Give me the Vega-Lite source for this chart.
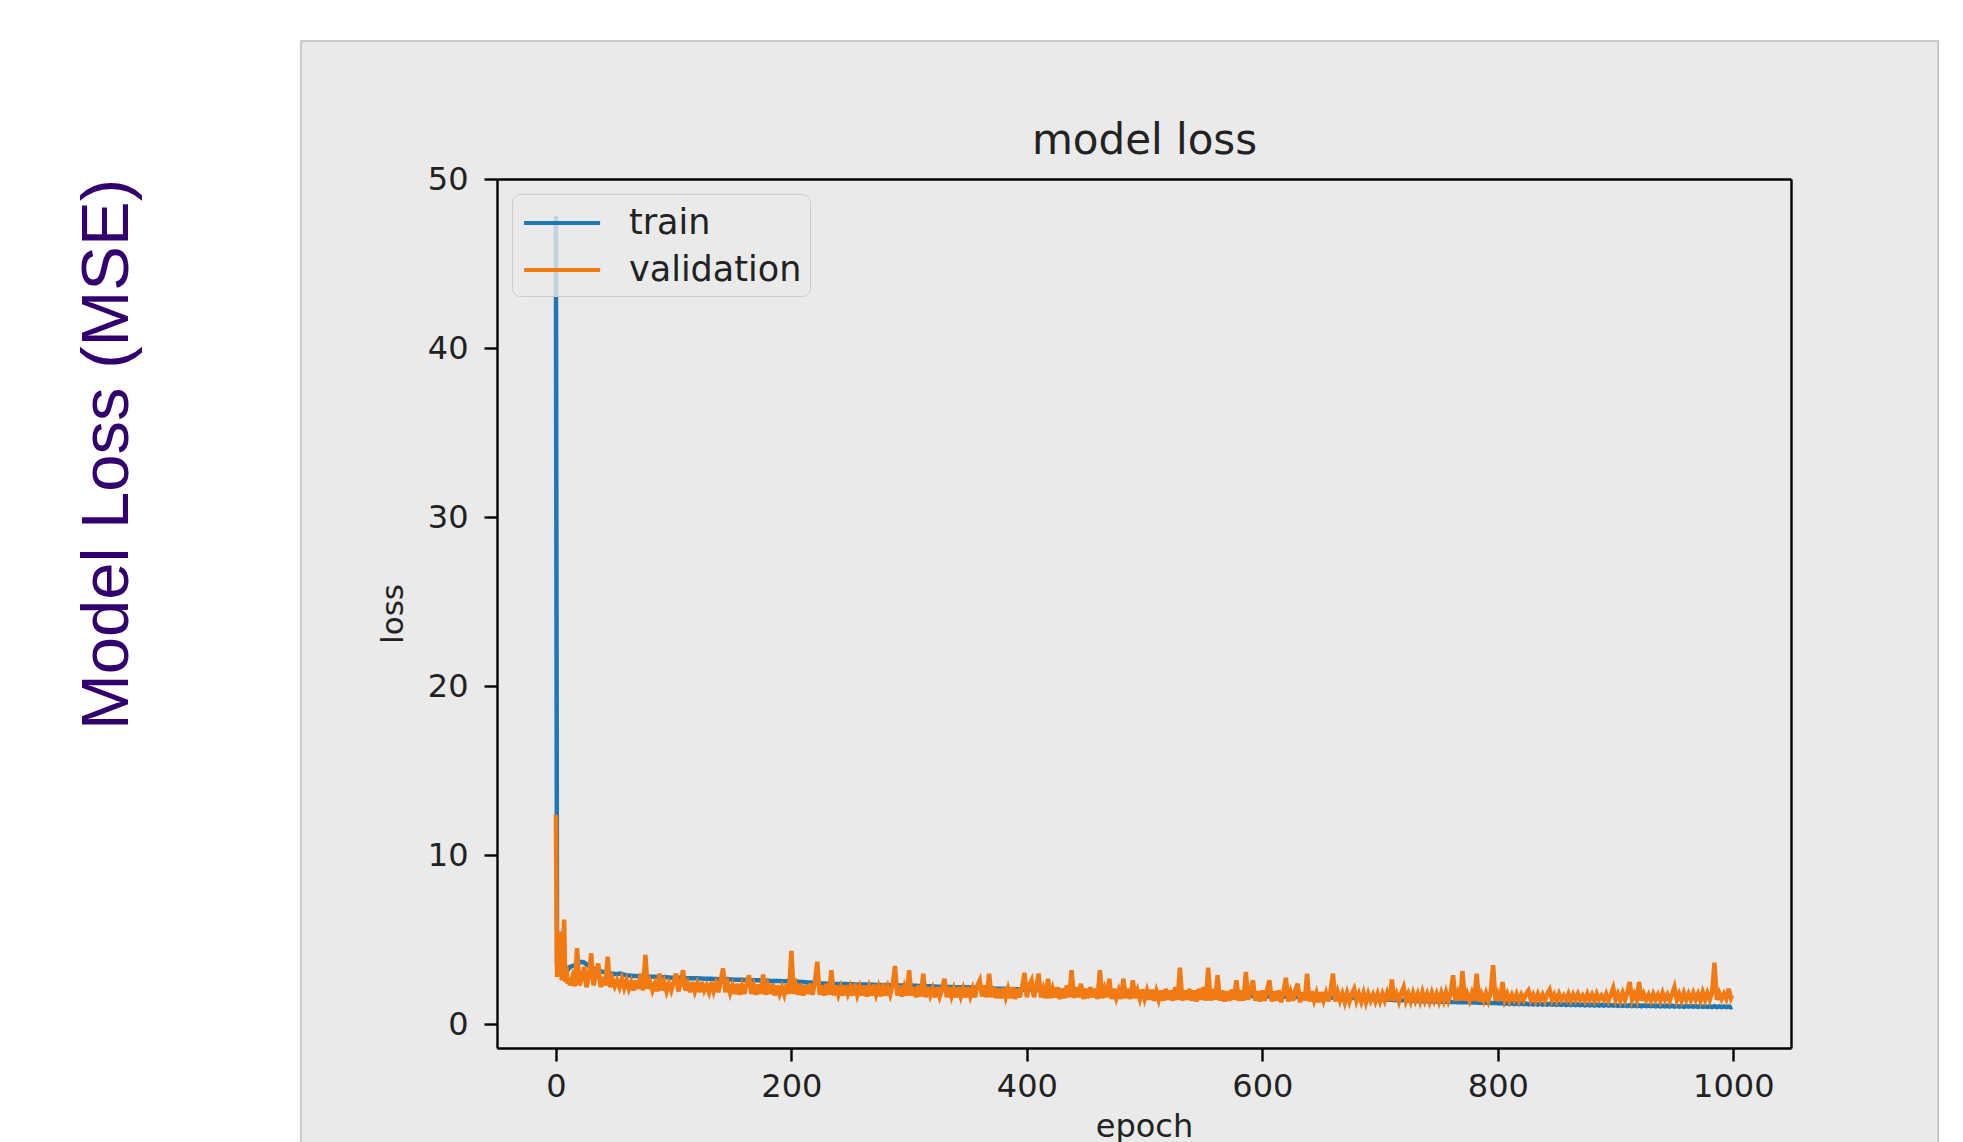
{
"$schema": "https://vega.github.io/schema/vega-lite/v6.json",
"width": 1294,
"height": 869,
"autosize": {"type": "none"},
"padding": {"left": 497, "top": 179, "right": 172, "bottom": 94},
"background": "white",
"title": {"text": "Model Loss (MSE)", "orient": "left", "anchor": "end", "frame": "group", "offset": 158, "font": "Liberation Sans", "fontSize": 67, "fontWeight": "normal", "color": "#32006e"},
"layer": [
{
"data": {"values": [{}]},
"mark": {"type": "rect", "clip": false, "fill": "#eaeaea", "stroke": "#bdbdbd", "strokeWidth": 1.5},
"encoding": {
"x": {"datum": -216.5, "type": "quantitative", "scale": {"domain": [-50, 1049], "nice": false, "zero": false}, "axis": null},
"x2": {"datum": 1174},
"y": {"datum": 58.16, "type": "quantitative", "scale": {"domain": [-1.4, 50], "nice": false, "zero": false}, "axis": null},
"y2": {"datum": -8}
}
},
{
"data": {"values": [
{"epoch":0,"train":47.8,"validation":12.4},
{"epoch":1,"train":3.6,"validation":2.8},
{"epoch":2,"train":3.5,"validation":5.4},
{"epoch":3,"train":3.4,"validation":3.0},
{"epoch":4,"train":3.5,"validation":5.5},
{"epoch":5,"train":3.3,"validation":2.6},
{"epoch":6,"train":3.4,"validation":4.0},
{"epoch":7,"train":3.3,"validation":6.2},
{"epoch":8,"train":3.2,"validation":2.5},
{"epoch":9,"train":3.3,"validation":3.4},
{"epoch":10,"train":3.2,"validation":2.4},
{"epoch":11,"train":3.3,"validation":2.7},
{"epoch":12,"train":3.4,"validation":2.3},
{"epoch":14,"train":3.45,"validation":2.8},
{"epoch":16,"train":3.5,"validation":2.25},
{"epoch":18,"train":3.6,"validation":4.5},
{"epoch":20,"train":3.65,"validation":2.3},
{"epoch":22,"train":3.7,"validation":2.7},
{"epoch":24,"train":3.65,"validation":3.4},
{"epoch":26,"train":3.55,"validation":2.2},
{"epoch":28,"train":3.45,"validation":2.8},
{"epoch":30,"train":3.35,"validation":4.2},
{"epoch":32,"train":3.3,"validation":2.3},
{"epoch":34,"train":3.25,"validation":2.9},
{"epoch":36,"train":3.2,"validation":3.6},
{"epoch":38,"train":3.15,"validation":2.2},
{"epoch":40,"train":3.1,"validation":2.8},
{"epoch":42,"train":3.08,"validation":2.3},
{"epoch":44,"train":3.05,"validation":4.0},
{"epoch":46,"train":3.02,"validation":2.2},
{"epoch":48,"train":3.0,"validation":2.7},
{"epoch":50,"train":2.98,"validation":2.25},
{"epoch":52,"train":2.96,"validation":2.6},
{"epoch":54,"train":3.0,"validation":2.2},
{"epoch":56,"train":2.96,"validation":2.7},
{"epoch":58,"train":2.93,"validation":2.15},
{"epoch":60,"train":2.9,"validation":2.6},
{"epoch":62,"train":2.89,"validation":2.1},
{"epoch":64,"train":2.88,"validation":2.5},
{"epoch":66,"train":2.86,"validation":2.0},
{"epoch":68,"train":2.86,"validation":2.6},
{"epoch":70,"train":2.85,"validation":2.1},
{"epoch":72,"train":2.84,"validation":3.0},
{"epoch":74,"train":2.84,"validation":2.0},
{"epoch":76,"train":2.83,"validation":4.1},
{"epoch":78,"train":2.82,"validation":2.1},
{"epoch":80,"train":2.82,"validation":2.5},
{"epoch":82,"train":2.81,"validation":2.0},
{"epoch":84,"train":2.81,"validation":2.4},
{"epoch":86,"train":2.8,"validation":1.95},
{"epoch":88,"train":2.79,"validation":3.0},
{"epoch":90,"train":2.79,"validation":2.0},
{"epoch":92,"train":2.78,"validation":2.5},
{"epoch":94,"train":2.78,"validation":1.95},
{"epoch":96,"train":2.77,"validation":2.4},
{"epoch":98,"train":2.76,"validation":2.0},
{"epoch":100,"train":2.76,"validation":2.5},
{"epoch":102,"train":2.75,"validation":3.0},
{"epoch":104,"train":2.75,"validation":1.95},
{"epoch":106,"train":2.75,"validation":2.4},
{"epoch":108,"train":2.74,"validation":3.2},
{"epoch":110,"train":2.74,"validation":2.0},
{"epoch":112,"train":2.73,"validation":2.4},
{"epoch":114,"train":2.73,"validation":1.9},
{"epoch":116,"train":2.72,"validation":2.5},
{"epoch":118,"train":2.72,"validation":1.95},
{"epoch":120,"train":2.72,"validation":2.4},
{"epoch":122,"train":2.71,"validation":1.9},
{"epoch":124,"train":2.71,"validation":2.5},
{"epoch":126,"train":2.7,"validation":2.0},
{"epoch":128,"train":2.7,"validation":2.3},
{"epoch":130,"train":2.69,"validation":1.9},
{"epoch":132,"train":2.69,"validation":2.5},
{"epoch":134,"train":2.68,"validation":1.95},
{"epoch":136,"train":2.68,"validation":2.4},
{"epoch":138,"train":2.67,"validation":1.9},
{"epoch":140,"train":2.67,"validation":2.6},
{"epoch":142,"train":2.67,"validation":3.3},
{"epoch":144,"train":2.66,"validation":1.9},
{"epoch":146,"train":2.66,"validation":2.4},
{"epoch":148,"train":2.65,"validation":1.85},
{"epoch":150,"train":2.65,"validation":2.3},
{"epoch":152,"train":2.64,"validation":1.8},
{"epoch":154,"train":2.64,"validation":2.4},
{"epoch":156,"train":2.63,"validation":1.75},
{"epoch":158,"train":2.63,"validation":2.3},
{"epoch":160,"train":2.62,"validation":1.8},
{"epoch":162,"train":2.62,"validation":2.4},
{"epoch":164,"train":2.61,"validation":2.9},
{"epoch":166,"train":2.61,"validation":1.8},
{"epoch":168,"train":2.6,"validation":2.3},
{"epoch":170,"train":2.6,"validation":1.75},
{"epoch":172,"train":2.6,"validation":2.35},
{"epoch":174,"train":2.59,"validation":1.8},
{"epoch":176,"train":2.59,"validation":2.95},
{"epoch":178,"train":2.58,"validation":1.75},
{"epoch":180,"train":2.58,"validation":2.3},
{"epoch":182,"train":2.57,"validation":1.8},
{"epoch":184,"train":2.57,"validation":2.4},
{"epoch":186,"train":2.56,"validation":1.7},
{"epoch":188,"train":2.56,"validation":2.3},
{"epoch":190,"train":2.56,"validation":1.8},
{"epoch":192,"train":2.55,"validation":2.2},
{"epoch":194,"train":2.55,"validation":1.75},
{"epoch":196,"train":2.55,"validation":2.35},
{"epoch":198,"train":2.55,"validation":1.8},
{"epoch":200,"train":2.55,"validation":4.35},
{"epoch":202,"train":2.54,"validation":1.8},
{"epoch":204,"train":2.53,"validation":2.3},
{"epoch":206,"train":2.52,"validation":1.75},
{"epoch":208,"train":2.51,"validation":2.4},
{"epoch":210,"train":2.5,"validation":1.7},
{"epoch":212,"train":2.49,"validation":2.3},
{"epoch":214,"train":2.48,"validation":1.8},
{"epoch":216,"train":2.47,"validation":2.4},
{"epoch":218,"train":2.46,"validation":1.75},
{"epoch":220,"train":2.45,"validation":2.5},
{"epoch":222,"train":2.44,"validation":3.7},
{"epoch":224,"train":2.43,"validation":1.75},
{"epoch":226,"train":2.42,"validation":2.3},
{"epoch":228,"train":2.41,"validation":1.7},
{"epoch":230,"train":2.4,"validation":2.4},
{"epoch":232,"train":2.4,"validation":1.75},
{"epoch":234,"train":2.4,"validation":3.2},
{"epoch":236,"train":2.39,"validation":1.7},
{"epoch":238,"train":2.39,"validation":2.3},
{"epoch":240,"train":2.39,"validation":1.75},
{"epoch":242,"train":2.38,"validation":2.2},
{"epoch":244,"train":2.38,"validation":1.7},
{"epoch":246,"train":2.38,"validation":2.3},
{"epoch":248,"train":2.37,"validation":1.8},
{"epoch":250,"train":2.37,"validation":2.2},
{"epoch":252,"train":2.37,"validation":1.7},
{"epoch":254,"train":2.36,"validation":2.4},
{"epoch":256,"train":2.36,"validation":1.75},
{"epoch":258,"train":2.36,"validation":2.2},
{"epoch":260,"train":2.35,"validation":1.7},
{"epoch":262,"train":2.35,"validation":2.3},
{"epoch":264,"train":2.35,"validation":1.65},
{"epoch":266,"train":2.34,"validation":2.2},
{"epoch":268,"train":2.34,"validation":1.7},
{"epoch":270,"train":2.34,"validation":2.35},
{"epoch":272,"train":2.33,"validation":1.75},
{"epoch":274,"train":2.33,"validation":2.2},
{"epoch":276,"train":2.33,"validation":1.65},
{"epoch":278,"train":2.32,"validation":2.4},
{"epoch":280,"train":2.32,"validation":1.7},
{"epoch":282,"train":2.32,"validation":2.2},
{"epoch":284,"train":2.31,"validation":1.75},
{"epoch":286,"train":2.31,"validation":2.3},
{"epoch":288,"train":2.31,"validation":3.45},
{"epoch":290,"train":2.3,"validation":1.7},
{"epoch":292,"train":2.3,"validation":2.3},
{"epoch":294,"train":2.3,"validation":1.65},
{"epoch":296,"train":2.3,"validation":2.2},
{"epoch":298,"train":2.3,"validation":1.7},
{"epoch":300,"train":2.3,"validation":3.2},
{"epoch":302,"train":2.29,"validation":1.7},
{"epoch":304,"train":2.28,"validation":2.2},
{"epoch":306,"train":2.28,"validation":1.6},
{"epoch":308,"train":2.27,"validation":2.3},
{"epoch":310,"train":2.27,"validation":1.65},
{"epoch":312,"train":2.26,"validation":3.0},
{"epoch":314,"train":2.26,"validation":1.6},
{"epoch":316,"train":2.25,"validation":2.2},
{"epoch":318,"train":2.25,"validation":1.7},
{"epoch":320,"train":2.24,"validation":2.1},
{"epoch":322,"train":2.24,"validation":1.6},
{"epoch":324,"train":2.23,"validation":2.2},
{"epoch":326,"train":2.23,"validation":1.65},
{"epoch":328,"train":2.22,"validation":2.1},
{"epoch":330,"train":2.22,"validation":2.7},
{"epoch":332,"train":2.21,"validation":1.6},
{"epoch":334,"train":2.21,"validation":2.2},
{"epoch":336,"train":2.21,"validation":1.65},
{"epoch":338,"train":2.2,"validation":2.1},
{"epoch":340,"train":2.2,"validation":1.6},
{"epoch":342,"train":2.2,"validation":2.2},
{"epoch":344,"train":2.2,"validation":1.65},
{"epoch":346,"train":2.2,"validation":2.1},
{"epoch":348,"train":2.19,"validation":1.6},
{"epoch":350,"train":2.19,"validation":2.2},
{"epoch":352,"train":2.18,"validation":1.65},
{"epoch":354,"train":2.18,"validation":2.1},
{"epoch":356,"train":2.17,"validation":1.6},
{"epoch":358,"train":2.17,"validation":2.3},
{"epoch":360,"train":2.16,"validation":2.6},
{"epoch":362,"train":2.15,"validation":1.65},
{"epoch":364,"train":2.15,"validation":2.3},
{"epoch":366,"train":2.14,"validation":1.6},
{"epoch":368,"train":2.13,"validation":3.0},
{"epoch":370,"train":2.13,"validation":1.6},
{"epoch":372,"train":2.12,"validation":2.2},
{"epoch":374,"train":2.11,"validation":1.55},
{"epoch":376,"train":2.11,"validation":2.1},
{"epoch":378,"train":2.1,"validation":1.55},
{"epoch":380,"train":2.1,"validation":2.15},
{"epoch":382,"train":2.09,"validation":1.6},
{"epoch":384,"train":2.09,"validation":2.1},
{"epoch":386,"train":2.08,"validation":1.55},
{"epoch":388,"train":2.08,"validation":2.2},
{"epoch":390,"train":2.07,"validation":1.5},
{"epoch":392,"train":2.07,"validation":2.1},
{"epoch":394,"train":2.06,"validation":1.6},
{"epoch":396,"train":2.06,"validation":2.2},
{"epoch":398,"train":2.05,"validation":3.05},
{"epoch":400,"train":2.05,"validation":1.6},
{"epoch":402,"train":2.04,"validation":2.3},
{"epoch":404,"train":2.04,"validation":2.6},
{"epoch":406,"train":2.04,"validation":1.6},
{"epoch":408,"train":2.03,"validation":2.2},
{"epoch":410,"train":2.03,"validation":3.0},
{"epoch":412,"train":2.03,"validation":1.6},
{"epoch":414,"train":2.02,"validation":2.1},
{"epoch":416,"train":2.02,"validation":1.55},
{"epoch":418,"train":2.02,"validation":2.7},
{"epoch":420,"train":2.02,"validation":1.55},
{"epoch":422,"train":2.01,"validation":2.1},
{"epoch":424,"train":2.01,"validation":1.6},
{"epoch":426,"train":2.0,"validation":2.2},
{"epoch":428,"train":2.0,"validation":1.5},
{"epoch":430,"train":1.99,"validation":2.1},
{"epoch":432,"train":1.99,"validation":1.55},
{"epoch":434,"train":1.98,"validation":2.3},
{"epoch":436,"train":1.98,"validation":1.6},
{"epoch":438,"train":1.97,"validation":3.2},
{"epoch":440,"train":1.97,"validation":1.55},
{"epoch":442,"train":1.96,"validation":2.2},
{"epoch":444,"train":1.96,"validation":1.6},
{"epoch":446,"train":1.95,"validation":2.4},
{"epoch":448,"train":1.95,"validation":1.5},
{"epoch":450,"train":1.94,"validation":2.1},
{"epoch":452,"train":1.94,"validation":1.55},
{"epoch":454,"train":1.93,"validation":2.2},
{"epoch":456,"train":1.93,"validation":1.6},
{"epoch":458,"train":1.92,"validation":2.1},
{"epoch":460,"train":1.92,"validation":1.5},
{"epoch":462,"train":1.91,"validation":3.2},
{"epoch":464,"train":1.91,"validation":1.55},
{"epoch":466,"train":1.9,"validation":2.1},
{"epoch":468,"train":1.9,"validation":1.6},
{"epoch":470,"train":1.89,"validation":2.7},
{"epoch":472,"train":1.89,"validation":1.5},
{"epoch":474,"train":1.88,"validation":2.1},
{"epoch":476,"train":1.88,"validation":1.55},
{"epoch":478,"train":1.88,"validation":2.0},
{"epoch":480,"train":1.87,"validation":1.5},
{"epoch":482,"train":1.87,"validation":2.7},
{"epoch":484,"train":1.87,"validation":1.55},
{"epoch":486,"train":1.86,"validation":2.1},
{"epoch":488,"train":1.86,"validation":1.5},
{"epoch":490,"train":1.86,"validation":2.6},
{"epoch":492,"train":1.85,"validation":1.55},
{"epoch":494,"train":1.85,"validation":2.0},
{"epoch":496,"train":1.85,"validation":1.5},
{"epoch":498,"train":1.85,"validation":2.05},
{"epoch":500,"train":1.84,"validation":1.5},
{"epoch":502,"train":1.84,"validation":2.0},
{"epoch":504,"train":1.83,"validation":1.45},
{"epoch":506,"train":1.83,"validation":2.05},
{"epoch":508,"train":1.82,"validation":1.4},
{"epoch":510,"train":1.82,"validation":1.95},
{"epoch":512,"train":1.81,"validation":1.45},
{"epoch":514,"train":1.81,"validation":2.0},
{"epoch":516,"train":1.8,"validation":1.4},
{"epoch":518,"train":1.8,"validation":2.1},
{"epoch":520,"train":1.79,"validation":1.45},
{"epoch":522,"train":1.79,"validation":2.0},
{"epoch":524,"train":1.78,"validation":1.4},
{"epoch":526,"train":1.78,"validation":2.2},
{"epoch":528,"train":1.77,"validation":1.45},
{"epoch":530,"train":1.77,"validation":3.35},
{"epoch":532,"train":1.76,"validation":1.4},
{"epoch":534,"train":1.76,"validation":2.0},
{"epoch":536,"train":1.76,"validation":1.45},
{"epoch":538,"train":1.75,"validation":2.1},
{"epoch":540,"train":1.75,"validation":1.4},
{"epoch":542,"train":1.75,"validation":2.0},
{"epoch":544,"train":1.74,"validation":1.35},
{"epoch":546,"train":1.74,"validation":2.1},
{"epoch":548,"train":1.74,"validation":1.45},
{"epoch":550,"train":1.73,"validation":2.2},
{"epoch":552,"train":1.73,"validation":1.4},
{"epoch":554,"train":1.73,"validation":3.35},
{"epoch":556,"train":1.72,"validation":1.4},
{"epoch":558,"train":1.72,"validation":2.1},
{"epoch":560,"train":1.72,"validation":1.45},
{"epoch":562,"train":1.72,"validation":2.9},
{"epoch":564,"train":1.71,"validation":1.4},
{"epoch":566,"train":1.71,"validation":2.0},
{"epoch":568,"train":1.71,"validation":1.35},
{"epoch":570,"train":1.71,"validation":1.95},
{"epoch":572,"train":1.7,"validation":1.4},
{"epoch":574,"train":1.7,"validation":2.05},
{"epoch":576,"train":1.7,"validation":1.45},
{"epoch":578,"train":1.7,"validation":2.6},
{"epoch":580,"train":1.69,"validation":1.4},
{"epoch":582,"train":1.69,"validation":2.0},
{"epoch":584,"train":1.69,"validation":1.4},
{"epoch":586,"train":1.69,"validation":3.1},
{"epoch":588,"train":1.68,"validation":1.45},
{"epoch":590,"train":1.68,"validation":2.0},
{"epoch":592,"train":1.68,"validation":2.6},
{"epoch":594,"train":1.67,"validation":1.4},
{"epoch":596,"train":1.67,"validation":1.95},
{"epoch":598,"train":1.67,"validation":1.35},
{"epoch":600,"train":1.66,"validation":2.0},
{"epoch":602,"train":1.66,"validation":1.4},
{"epoch":604,"train":1.66,"validation":2.05},
{"epoch":606,"train":1.65,"validation":2.6},
{"epoch":608,"train":1.65,"validation":1.35},
{"epoch":610,"train":1.65,"validation":1.95},
{"epoch":612,"train":1.64,"validation":1.4},
{"epoch":614,"train":1.64,"validation":2.0},
{"epoch":616,"train":1.64,"validation":1.3},
{"epoch":618,"train":1.63,"validation":1.95},
{"epoch":620,"train":1.63,"validation":2.75},
{"epoch":622,"train":1.63,"validation":1.35},
{"epoch":624,"train":1.62,"validation":1.9},
{"epoch":626,"train":1.62,"validation":1.4},
{"epoch":628,"train":1.62,"validation":2.0},
{"epoch":630,"train":1.62,"validation":2.4},
{"epoch":632,"train":1.61,"validation":1.3},
{"epoch":634,"train":1.61,"validation":1.9},
{"epoch":636,"train":1.61,"validation":1.4},
{"epoch":638,"train":1.6,"validation":3.0},
{"epoch":640,"train":1.6,"validation":1.35},
{"epoch":642,"train":1.6,"validation":1.95},
{"epoch":644,"train":1.6,"validation":1.4},
{"epoch":646,"train":1.6,"validation":1.85},
{"epoch":648,"train":1.6,"validation":1.3},
{"epoch":650,"train":1.59,"validation":1.9},
{"epoch":652,"train":1.59,"validation":1.4},
{"epoch":654,"train":1.59,"validation":1.85},
{"epoch":656,"train":1.59,"validation":1.35},
{"epoch":658,"train":1.58,"validation":2.0},
{"epoch":660,"train":1.58,"validation":3.0},
{"epoch":662,"train":1.58,"validation":1.35},
{"epoch":664,"train":1.58,"validation":1.9},
{"epoch":666,"train":1.58,"validation":1.4},
{"epoch":668,"train":1.58,"validation":1.8},
{"epoch":670,"train":1.57,"validation":1.3},
{"epoch":672,"train":1.57,"validation":1.85},
{"epoch":674,"train":1.56,"validation":1.35},
{"epoch":676,"train":1.56,"validation":1.8},
{"epoch":678,"train":1.55,"validation":2.1},
{"epoch":680,"train":1.54,"validation":1.4},
{"epoch":682,"train":1.54,"validation":1.8},
{"epoch":684,"train":1.53,"validation":1.35},
{"epoch":686,"train":1.52,"validation":1.85},
{"epoch":688,"train":1.52,"validation":1.3},
{"epoch":690,"train":1.51,"validation":1.8},
{"epoch":692,"train":1.5,"validation":1.4},
{"epoch":694,"train":1.5,"validation":1.75},
{"epoch":696,"train":1.49,"validation":1.35},
{"epoch":698,"train":1.48,"validation":1.8},
{"epoch":700,"train":1.48,"validation":1.35},
{"epoch":702,"train":1.47,"validation":1.8},
{"epoch":704,"train":1.46,"validation":1.4},
{"epoch":706,"train":1.46,"validation":1.85},
{"epoch":708,"train":1.45,"validation":1.4},
{"epoch":710,"train":1.45,"validation":2.65},
{"epoch":712,"train":1.44,"validation":1.4},
{"epoch":714,"train":1.43,"validation":1.8},
{"epoch":716,"train":1.43,"validation":1.35},
{"epoch":718,"train":1.42,"validation":1.85},
{"epoch":720,"train":1.42,"validation":2.2},
{"epoch":722,"train":1.41,"validation":1.4},
{"epoch":724,"train":1.41,"validation":1.8},
{"epoch":726,"train":1.4,"validation":1.35},
{"epoch":728,"train":1.4,"validation":1.85},
{"epoch":730,"train":1.39,"validation":1.4},
{"epoch":732,"train":1.38,"validation":1.8},
{"epoch":734,"train":1.38,"validation":1.35},
{"epoch":736,"train":1.37,"validation":1.9},
{"epoch":738,"train":1.37,"validation":1.4},
{"epoch":740,"train":1.36,"validation":1.8},
{"epoch":742,"train":1.36,"validation":1.35},
{"epoch":744,"train":1.35,"validation":1.85},
{"epoch":746,"train":1.35,"validation":1.4},
{"epoch":748,"train":1.35,"validation":1.8},
{"epoch":750,"train":1.34,"validation":1.35},
{"epoch":752,"train":1.34,"validation":1.85},
{"epoch":754,"train":1.34,"validation":1.4},
{"epoch":756,"train":1.33,"validation":1.9},
{"epoch":758,"train":1.33,"validation":1.4},
{"epoch":760,"train":1.32,"validation":1.8},
{"epoch":762,"train":1.32,"validation":2.9},
{"epoch":764,"train":1.32,"validation":1.4},
{"epoch":766,"train":1.31,"validation":1.85},
{"epoch":768,"train":1.31,"validation":1.4},
{"epoch":770,"train":1.31,"validation":3.15},
{"epoch":772,"train":1.3,"validation":1.4},
{"epoch":774,"train":1.3,"validation":1.8},
{"epoch":776,"train":1.3,"validation":1.4},
{"epoch":778,"train":1.29,"validation":1.85},
{"epoch":780,"train":1.29,"validation":1.4},
{"epoch":782,"train":1.29,"validation":3.0},
{"epoch":784,"train":1.28,"validation":1.35},
{"epoch":786,"train":1.28,"validation":1.8},
{"epoch":788,"train":1.28,"validation":1.4},
{"epoch":790,"train":1.27,"validation":1.85},
{"epoch":792,"train":1.27,"validation":1.4},
{"epoch":794,"train":1.26,"validation":1.9},
{"epoch":796,"train":1.26,"validation":3.5},
{"epoch":798,"train":1.26,"validation":1.4},
{"epoch":800,"train":1.25,"validation":1.8},
{"epoch":802,"train":1.25,"validation":1.4},
{"epoch":804,"train":1.25,"validation":2.5},
{"epoch":806,"train":1.21,"validation":1.45},
{"epoch":808,"train":1.26,"validation":1.8},
{"epoch":810,"train":1.2,"validation":1.4},
{"epoch":812,"train":1.25,"validation":1.75},
{"epoch":814,"train":1.2,"validation":1.45},
{"epoch":816,"train":1.24,"validation":1.8},
{"epoch":818,"train":1.19,"validation":1.4},
{"epoch":820,"train":1.24,"validation":1.75},
{"epoch":822,"train":1.19,"validation":1.45},
{"epoch":824,"train":1.23,"validation":1.8},
{"epoch":826,"train":1.18,"validation":2.0},
{"epoch":828,"train":1.23,"validation":1.45},
{"epoch":830,"train":1.18,"validation":1.75},
{"epoch":832,"train":1.22,"validation":1.4},
{"epoch":834,"train":1.17,"validation":1.8},
{"epoch":836,"train":1.22,"validation":1.45},
{"epoch":838,"train":1.17,"validation":1.75},
{"epoch":840,"train":1.21,"validation":1.4},
{"epoch":842,"train":1.16,"validation":1.8},
{"epoch":844,"train":1.21,"validation":2.05},
{"epoch":846,"train":1.16,"validation":1.45},
{"epoch":848,"train":1.2,"validation":1.75},
{"epoch":850,"train":1.15,"validation":1.4},
{"epoch":852,"train":1.2,"validation":1.8},
{"epoch":854,"train":1.15,"validation":1.45},
{"epoch":856,"train":1.19,"validation":1.7},
{"epoch":858,"train":1.14,"validation":1.45},
{"epoch":860,"train":1.19,"validation":1.8},
{"epoch":862,"train":1.14,"validation":1.4},
{"epoch":864,"train":1.18,"validation":1.75},
{"epoch":866,"train":1.13,"validation":1.45},
{"epoch":868,"train":1.18,"validation":1.8},
{"epoch":870,"train":1.13,"validation":1.45},
{"epoch":872,"train":1.17,"validation":1.7},
{"epoch":874,"train":1.12,"validation":1.4},
{"epoch":876,"train":1.17,"validation":1.8},
{"epoch":878,"train":1.12,"validation":1.45},
{"epoch":880,"train":1.16,"validation":1.75},
{"epoch":882,"train":1.11,"validation":1.4},
{"epoch":884,"train":1.16,"validation":1.8},
{"epoch":886,"train":1.11,"validation":1.45},
{"epoch":888,"train":1.15,"validation":1.7},
{"epoch":890,"train":1.1,"validation":1.45},
{"epoch":892,"train":1.15,"validation":1.8},
{"epoch":894,"train":1.1,"validation":1.4},
{"epoch":896,"train":1.14,"validation":1.75},
{"epoch":898,"train":1.1,"validation":2.15},
{"epoch":900,"train":1.14,"validation":1.45},
{"epoch":902,"train":1.09,"validation":1.8},
{"epoch":904,"train":1.13,"validation":1.4},
{"epoch":906,"train":1.09,"validation":1.85},
{"epoch":908,"train":1.13,"validation":1.45},
{"epoch":910,"train":1.08,"validation":1.9},
{"epoch":912,"train":1.13,"validation":2.5},
{"epoch":914,"train":1.08,"validation":1.45},
{"epoch":916,"train":1.12,"validation":1.8},
{"epoch":918,"train":1.08,"validation":1.45},
{"epoch":920,"train":1.12,"validation":2.5},
{"epoch":922,"train":1.07,"validation":1.4},
{"epoch":924,"train":1.12,"validation":1.8},
{"epoch":926,"train":1.07,"validation":1.45},
{"epoch":928,"train":1.11,"validation":1.75},
{"epoch":930,"train":1.07,"validation":1.4},
{"epoch":932,"train":1.11,"validation":1.8},
{"epoch":934,"train":1.06,"validation":1.45},
{"epoch":936,"train":1.11,"validation":1.75},
{"epoch":938,"train":1.06,"validation":1.4},
{"epoch":940,"train":1.1,"validation":1.85},
{"epoch":942,"train":1.06,"validation":1.45},
{"epoch":944,"train":1.1,"validation":1.75},
{"epoch":946,"train":1.05,"validation":1.4},
{"epoch":948,"train":1.1,"validation":1.8},
{"epoch":950,"train":1.05,"validation":2.2},
{"epoch":952,"train":1.09,"validation":1.45},
{"epoch":954,"train":1.05,"validation":1.8},
{"epoch":956,"train":1.09,"validation":1.4},
{"epoch":958,"train":1.04,"validation":1.85},
{"epoch":960,"train":1.09,"validation":1.45},
{"epoch":962,"train":1.04,"validation":1.8},
{"epoch":964,"train":1.08,"validation":1.45},
{"epoch":966,"train":1.04,"validation":1.85},
{"epoch":968,"train":1.08,"validation":1.45},
{"epoch":970,"train":1.03,"validation":1.8},
{"epoch":972,"train":1.08,"validation":1.4},
{"epoch":974,"train":1.03,"validation":1.9},
{"epoch":976,"train":1.07,"validation":1.45},
{"epoch":978,"train":1.03,"validation":1.85},
{"epoch":980,"train":1.07,"validation":1.45},
{"epoch":982,"train":1.02,"validation":1.9},
{"epoch":984,"train":1.07,"validation":3.65},
{"epoch":986,"train":1.02,"validation":1.45},
{"epoch":988,"train":1.06,"validation":1.85},
{"epoch":990,"train":1.02,"validation":1.5},
{"epoch":992,"train":1.06,"validation":1.8},
{"epoch":994,"train":1.01,"validation":1.5},
{"epoch":996,"train":1.05,"validation":2.1},
{"epoch":998,"train":1.01,"validation":1.55},
{"epoch":999,"train":1.04,"validation":1.7}
]},
"transform": [{"fold": ["train", "validation"], "as": ["series", "loss"]}],
"mark": {"type": "line", "strokeWidth": 4.5, "clip": true},
"encoding": {
"x": {"field": "epoch", "type": "quantitative", "scale": {"domain": [-50, 1049], "nice": false, "zero": false},
 "axis": {"title": "epoch", "values": [0, 200, 400, 600, 800, 1000], "format": "d", "grid": false, "tickSize": 13, "tickWidth": 2.4, "tickColor": "black", "domainColor": "black", "domainWidth": 2.4, "labelFont": "DejaVu Sans", "labelFontSize": 32, "labelColor": "#222222", "labelPadding": 10, "labelFlush": false, "titleFont": "DejaVu Sans", "titleFontSize": 32, "titleFontWeight": "normal", "titleColor": "#222222", "titlePadding": 9, "zindex": 1}},
"y": {"field": "loss", "type": "quantitative", "scale": {"domain": [-1.4, 50], "nice": false, "zero": false},
 "axis": {"title": "loss", "values": [0, 10, 20, 30, 40, 50], "format": "d", "grid": false, "tickSize": 13, "tickWidth": 2.4, "tickColor": "black", "domainColor": "black", "domainWidth": 2.4, "labelFont": "DejaVu Sans", "labelFontSize": 32, "labelColor": "#222222", "labelPadding": 16, "labelFlush": false, "titleFont": "DejaVu Sans", "titleFontSize": 31, "titleFontWeight": "normal", "titleColor": "#222222", "titlePadding": 18, "zindex": 1}},
"color": {"field": "series", "type": "nominal", "scale": {"domain": ["train", "validation"], "range": ["#1f77b4", "#f27a12"]},
 "legend": {"orient": "top-left", "offset": 15, "title": null, "symbolType": "M-0.89,0H3.11", "symbolSize": 1444, "symbolStrokeWidth": 4, "labelFont": "DejaVu Sans", "labelFontSize": 35, "labelColor": "#222222", "labelOffset": 67, "labelLimit": 500, "rowPadding": 8, "padding": 8, "fillColor": "rgba(234,234,234,0.8)", "strokeColor": "#cccccc", "cornerRadius": 8}}
}
},
{
"data": {"values": []},
"mark": "point",
"encoding": {
"x": {"field": "epoch", "type": "quantitative", "scale": {"domain": [-50, 1049], "nice": false, "zero": false},
 "axis": {"orient": "top", "title": "model loss", "labels": false, "ticks": false, "grid": false, "domainColor": "black", "domainWidth": 2.4, "titleFont": "DejaVu Sans", "titleFontSize": 42, "titleFontWeight": "normal", "titleColor": "#222222", "titlePadding": 17, "zindex": 1}},
"y": {"field": "loss", "type": "quantitative", "scale": {"domain": [-1.4, 50], "nice": false, "zero": false},
 "axis": {"orient": "right", "title": null, "labels": false, "ticks": false, "grid": false, "domainColor": "black", "domainWidth": 2.4, "zindex": 1}}
}
}
],
"resolve": {"axis": {"x": "independent", "y": "independent"}},
"config": {"view": {"stroke": null}}
}
